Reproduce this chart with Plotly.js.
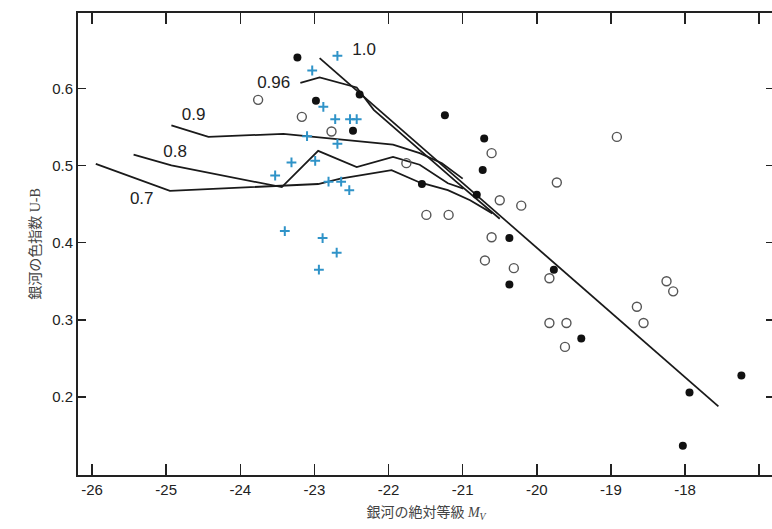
<!DOCTYPE html>
<html><head><meta charset="utf-8">
<script src="https://cdn.plot.ly/plotly-3.0.1.min.js"></script>
<style>html,body{margin:0;padding:0;overflow:hidden;background:#fff;width:772px;height:529px}</style>
</head><body><div id="chart" style="width:776px;height:529px"></div>
<script>
// Filled circles (black)
const filledX = [-23.23, -22.98, -22.39, -22.48, -21.24, -20.71, -20.73, -21.55, -20.81, -20.37, -20.37, -19.77, -19.40, -17.94, -18.03, -17.24];
const filledY = [0.640, 0.584, 0.592, 0.545, 0.565, 0.535, 0.494, 0.476, 0.462, 0.406, 0.346, 0.365, 0.276, 0.206, 0.137, 0.228];
// Open circles
const openX = [-23.76, -23.17, -22.77, -21.76, -20.61, -19.73, -18.92, -21.49, -21.19, -20.50, -20.21, -20.61, -20.70, -20.31, -19.83, -18.25, -18.16, -18.65, -18.56, -19.83, -19.60, -19.62];
const openY = [0.585, 0.563, 0.544, 0.503, 0.516, 0.478, 0.537, 0.436, 0.436, 0.455, 0.448, 0.407, 0.377, 0.367, 0.354, 0.350, 0.337, 0.317, 0.296, 0.296, 0.296, 0.265];
// Blue crosses
const crossX = [-22.69, -23.03, -22.88, -22.72, -22.52, -22.43, -23.10, -22.69, -23.31, -22.99, -23.53, -22.81, -22.64, -22.53, -23.40, -22.89, -22.70, -22.94];
const crossY = [0.642, 0.623, 0.576, 0.560, 0.560, 0.560, 0.538, 0.528, 0.504, 0.506, 0.487, 0.479, 0.479, 0.468, 0.415, 0.406, 0.387, 0.365];
// Model tracks
const line10X = [-22.93, -17.55];
const line10Y = [0.639, 0.188];
const line096X = [-23.19, -22.93, -22.43, -22.20, -21.10, -20.50];
const line096Y = [0.607, 0.614, 0.601, 0.572, 0.480, 0.431];
const line09X = [-24.93, -24.43, -23.42, -22.61, -21.94, -21.58, -21.28, -21.00];
const line09Y = [0.552, 0.537, 0.541, 0.533, 0.527, 0.516, 0.503, 0.483];
const line08X = [-25.44, -24.93, -23.44, -22.95, -22.43, -21.94, -21.58, -21.20, -20.99];
const line08Y = [0.514, 0.500, 0.472, 0.519, 0.498, 0.511, 0.501, 0.477, 0.470];
const line07X = [-25.95, -24.95, -22.95, -22.65, -21.96, -21.58, -21.20, -20.90, -20.60];
const line07Y = [0.502, 0.467, 0.476, 0.483, 0.494, 0.478, 0.468, 0.455, 0.438];
// Track labels
const labelText = ["1.0", "0.96", "0.9", "0.8", "0.7"];
const labelX = [-22.33, -23.55, -24.63, -24.88, -25.33];
const labelY = [0.648, 0.606, 0.565, 0.516, 0.456];
// Axis ticks
const xTickVals = [-26, -25, -24, -23, -22, -21, -20, -19, -18];
const xTickText = ["-26", "-25", "-24", "-23", "-22", "-21", "-20", "-19", "-18"];
const yTickVals = [0.2, 0.3, 0.4, 0.5, 0.6];
const yTickText = ["0.2", "0.3", "0.4", "0.5", "0.6"];

const lineStyle = {color: '#1a1a1a', width: 1.8};
const tracks = [[line10X, line10Y], [line096X, line096Y], [line09X, line09Y], [line08X, line08Y], [line07X, line07Y]];
const data = tracks.map(t => ({x: t[0], y: t[1], mode: 'lines', line: lineStyle, hoverinfo: 'skip', showlegend: false}));
data.push({x: openX, y: openY, mode: 'markers', showlegend: false,
  marker: {symbol: 'circle-open', size: 9, color: '#555', line: {width: 1.4, color: '#555'}}});
data.push({x: filledX, y: filledY, mode: 'markers', showlegend: false,
  marker: {symbol: 'circle', size: 8, color: '#111'}});
data.push({x: crossX, y: crossY, mode: 'markers', showlegend: false,
  marker: {symbol: 'cross-thin-open', size: 7, color: '#2f93c8', line: {width: 2, color: '#2f93c8'}}});
data.push({x: labelX, y: labelY, mode: 'text', text: labelText, showlegend: false,
  textfont: {family: 'Liberation Sans, Arial, sans-serif', size: 17, color: '#222'}, textposition: 'middle center'});

const tickFont = {family: 'Liberation Sans, Arial, sans-serif', size: 15, color: '#222'};
const layout = {
  width: 776, height: 529,
  margin: {l: 78, r: 2, t: 13, b: 54},
  paper_bgcolor: '#fff', plot_bgcolor: '#fff',
  xaxis: {
    range: [-26.19, -16.80], tickvals: xTickVals, ticktext: xTickText,
    ticks: 'inside', ticklen: 11, tickwidth: 1.5, tickcolor: '#222',
    minor: {tick0: -26, dtick: 1, ticks: 'inside', ticklen: 11, tickwidth: 1.5, tickcolor: '#222', showgrid: false},
    showline: true, linecolor: '#222', linewidth: 2, mirror: 'ticks',
    showgrid: false, zeroline: false, tickfont: tickFont, automargin: false,
    title: {text: '銀河の絶対等級 <i>M<sub>V</sub></i>', standoff: 10,
      font: {family: 'Liberation Serif, Noto Sans CJK JP, serif', size: 14, color: '#444'}}
  },
  yaxis: {
    range: [0.0991, 0.6975], tickvals: yTickVals, ticktext: yTickText,
    ticks: 'inside', ticklen: 8, tickwidth: 1.5, tickcolor: '#222',
    showline: true, linecolor: '#222', linewidth: 2, mirror: 'ticks',
    showgrid: false, zeroline: false, tickfont: tickFont, automargin: false,
    title: {text: '銀河の色指数 U-B', standoff: 8,
      font: {family: 'Liberation Serif, Noto Sans CJK JP, serif', size: 14, color: '#444'}}
  }
};
Plotly.newPlot('chart', data, layout, {displayModeBar: false, staticPlot: true});
</script>
</body></html>
